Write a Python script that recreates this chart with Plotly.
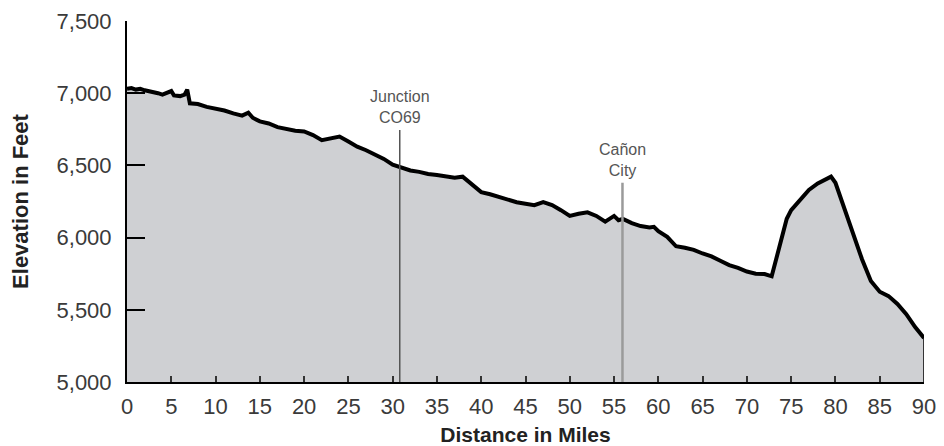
import plotly.graph_objects as go

# Profile (miles, feet)
distance = [0, 0.5, 1, 1.5, 2, 2.5, 3, 3.5, 4, 4.5, 5, 5.3, 6, 6.5, 6.8, 7.1, 8, 9, 10, 11, 12, 13,
            13.7, 14.2, 15, 16, 17, 18, 19, 20, 21, 22, 23, 24, 25, 26, 27, 28, 29, 30, 31, 32, 33,
            34, 35, 36, 37, 37.9, 39, 40, 41, 42, 43, 44, 45, 46, 47, 48, 49, 50, 51, 52, 53, 54,
            55, 55.5, 56, 57, 58, 59, 59.5, 60, 61, 62, 63, 64, 65, 66, 67, 68, 69, 70, 71, 72,
            72.8, 73.5, 74.5, 75, 76, 77, 78, 79, 79.5, 80, 81, 82, 83, 84, 85, 86, 87, 88, 89, 90]
elevation = [7030, 7035, 7025, 7030, 7020, 7015, 7005, 7000, 6990, 7005, 7015, 6985, 6980, 6990,
             7025, 6930, 6925, 6905, 6895, 6880, 6860, 6845, 6865, 6830, 6805, 6790, 6765, 6750,
             6740, 6735, 6710, 6675, 6690, 6700, 6665, 6630, 6605, 6575, 6545, 6505, 6485, 6465,
             6455, 6440, 6433, 6425, 6415, 6422, 6364, 6315, 6300, 6280, 6260, 6245, 6235, 6225,
             6245, 6225, 6190, 6150, 6165, 6175, 6150, 6110, 6150, 6120, 6130, 6100, 6080, 6070,
             6075, 6045, 6005, 5940, 5930, 5915, 5890, 5870, 5840, 5810, 5790, 5765, 5750, 5748,
             5732, 5900, 6130, 6190, 6260, 6330, 6375, 6410, 6422, 6380, 6200, 6010, 5850, 5700,
             5625, 5595, 5540, 5470, 5380, 5305]

# Landmarks
landmark_miles = [30.8, 55.95]
landmark_tops = [6745, 6380]
landmark_labels = ["Junction<br>CO69", "Cañon<br>City"]
landmark_colors = ["#555555", "#9a9a9a"]
landmark_widths = [1.5, 2.5]

x_ticks = list(range(0, 95, 5))
y_ticks = [5000, 5500, 6000, 6500, 7000, 7500]
y_tick_text = ["5,000", "5,500", "6,000", "6,500", "7,000", "7,500"]

FONT = "Liberation Sans, Arial, sans-serif"

fig = go.Figure()
fig.add_trace(go.Scatter(
    x=distance, y=elevation, mode="lines",
    line=dict(color="#000000", width=4),
    fill="tozeroy", fillcolor="#cfd0d3",
    hoverinfo="skip", showlegend=False,
))

# closing edge at the end of the profile
fig.add_shape(type="line", x0=distance[-1], x1=distance[-1], y0=5000, y1=elevation[-1],
              xref="x", yref="y", line=dict(color="#000000", width=1.5))

for xm, top, lab, col, w in zip(landmark_miles, landmark_tops, landmark_labels,
                                landmark_colors, landmark_widths):
    fig.add_shape(type="line", x0=xm, x1=xm, y0=5000, y1=top, xref="x", yref="y",
                  line=dict(color=col, width=w))
    fig.add_annotation(x=xm, y=top, text=lab, showarrow=False, xref="x", yref="y",
                       yanchor="bottom", yshift=2,
                       font=dict(family=FONT, size=16, color="#555555"))

fig.update_layout(
    width=936, height=438,
    margin=dict(l=119, r=20, t=13, b=64),
    paper_bgcolor="white", plot_bgcolor="white",
    font=dict(family=FONT, color="#333333"),
    showlegend=False,
)
fig.update_xaxes(
    range=[0, 90], tickvals=x_ticks, ticks="inside", ticklen=6, tickwidth=1.5, tickcolor="#333",
    showline=True, linecolor="#000", linewidth=2, showgrid=False, zeroline=False,
    tickfont=dict(size=22, color="#3a3a3a"), ticklabelstandoff=4, automargin=False,
    title=dict(text="<b>Distance in Miles</b>", font=dict(size=21, color="#222222"), standoff=13),
    layer="above traces",
)
fig.update_yaxes(
    range=[5000, 7500], tickvals=y_ticks, ticktext=y_tick_text, ticks="inside", ticklen=18,
    tickwidth=2, tickcolor="#000",
    showline=True, linecolor="#000", linewidth=2, showgrid=False, zeroline=False,
    tickfont=dict(size=22, color="#3a3a3a"), ticklabelstandoff=9, automargin=False,
    title=dict(text="<b>Elevation in Feet</b>", font=dict(size=22, color="#222222"), standoff=22),
    layer="above traces",
)

fig.write_html("out.html")
